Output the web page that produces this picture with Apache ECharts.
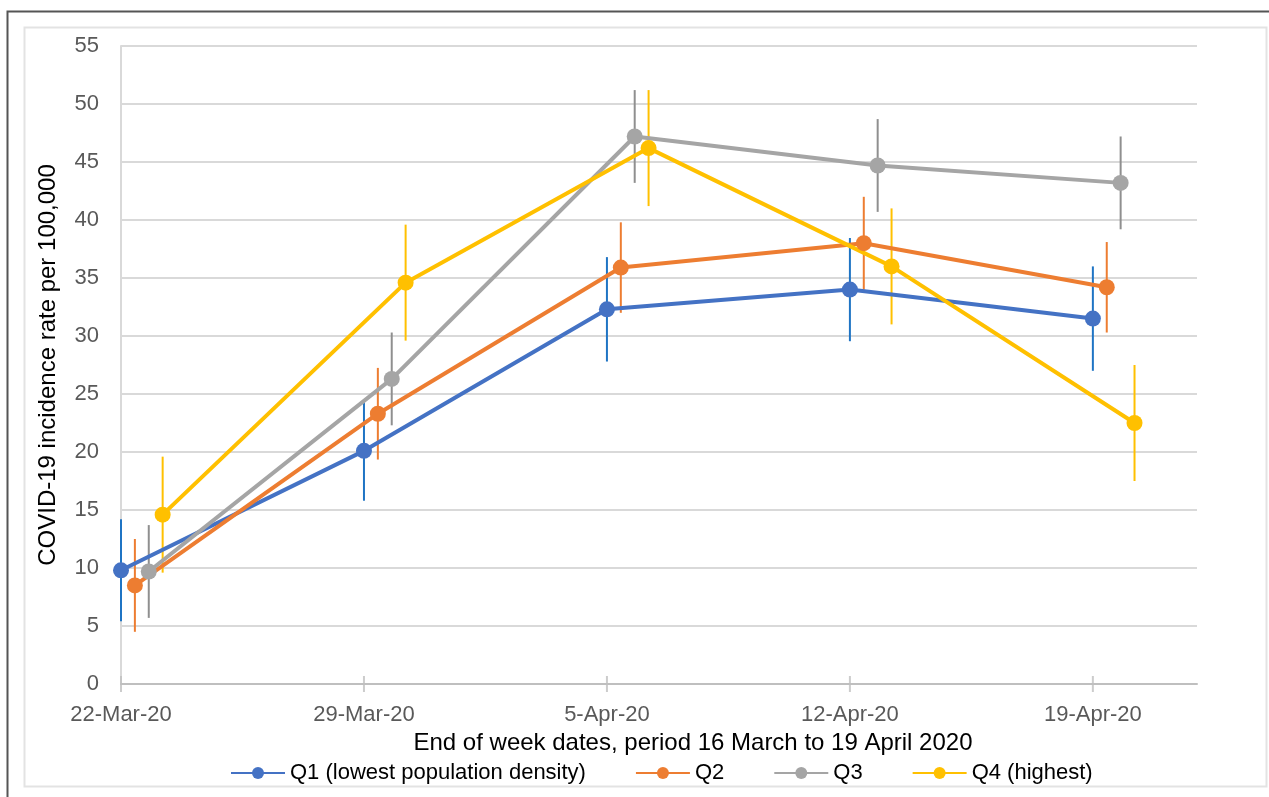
<!DOCTYPE html>
<html>
<head>
<meta charset="utf-8">
<title>COVID-19 incidence by population density quartile</title>
<script src="https://cdn.jsdelivr.net/npm/echarts@6/dist/echarts.min.js"></script>
<style>
  html, body { margin: 0; padding: 0; background: #fff; }
  #chart { width: 1269px; height: 797px; }
</style>
</head>
<body>
<div id="chart"></div>
<script>
// week labels, placed every 7 days starting at 22-Mar-20 (day 0)
const weekLabels = ["22-Mar-20", "29-Mar-20", "5-Apr-20", "12-Apr-20", "19-Apr-20"];
const weekDays = [0, 7, 14, 21, 28];

const seriesNames = ["Q1 (lowest population density)", "Q2", "Q3", "Q4 (highest)"];
const lineColors = ["#4472C4", "#ED7D31", "#A5A5A5", "#FFC000"];
const barColors = ["#1F74C4", "#ED7D31", "#8F8F8F", "#FFC000"];
// small horizontal shift (days) so the error bars don't overlap
const dayOffset = [0, 0.4, 0.8, 1.2];

// incidence rate per 100,000
const q1 = [9.8, 20.1, 32.3, 34.0, 31.5];
const q2 = [8.5, 23.3, 35.9, 38.0, 34.2];
const q3 = [9.7, 26.3, 47.2, 44.7, 43.2];
const q4 = [14.6, 34.6, 46.2, 36.0, 22.5];

// half-width of the error bars
const q1Err = [4.4, 4.3, 4.5, 4.45, 4.5];
const q2Err = [4.0, 3.95, 3.9, 4.0, 3.9];
const q3Err = [4.0, 4.0, 4.0, 4.0, 4.0];
const q4Err = [5.0, 5.0, 5.0, 5.0, 5.0];

const values = [q1, q2, q3, q4];
const errors = [q1Err, q2Err, q3Err, q4Err];

const FONT = "Liberation Sans";

const chart = echarts.init(document.getElementById("chart"), null, { renderer: "canvas" });

function errorBarSeries(i) {
  const data = values[i].map((v, k) => [weekDays[k] + dayOffset[i], v - errors[i][k], v + errors[i][k]]);
  return {
    type: "custom",
    name: seriesNames[i] + " err",
    z: 2,
    silent: true,
    data: data,
    encode: { x: 0, y: [1, 2] },
    renderItem: function (params, api) {
      const lo = api.coord([api.value(0), api.value(1)]);
      const hi = api.coord([api.value(0), api.value(2)]);
      return {
        type: "line",
        shape: { x1: lo[0], y1: lo[1], x2: hi[0], y2: hi[1] },
        style: { stroke: barColors[i], lineWidth: 2 }
      };
    }
  };
}

function lineSeries(i) {
  return {
    type: "line",
    name: seriesNames[i],
    z: 3,
    data: values[i].map((v, k) => [weekDays[k] + dayOffset[i], v]),
    symbol: "circle",
    symbolSize: 16,
    showSymbol: true,
    lineStyle: { color: lineColors[i], width: 4 },
    itemStyle: { color: lineColors[i] },
    emphasis: { disabled: true }
  };
}

const series = [];
for (let i = 0; i < 4; i++) series.push(errorBarSeries(i));
for (let i = 0; i < 4; i++) series.push(lineSeries(i));

// crossing tick marks on the x axis
series.push({
  type: "scatter",
  silent: true,
  z: 1,
  data: weekDays.map(d => [d, 0]),
  symbol: "rect",
  symbolSize: [2, 16],
  itemStyle: { color: "#BFBFBF" },
  clip: false
});

const option = {
  backgroundColor: "#fff",
  animation: false,
  textStyle: { fontFamily: FONT },
  graphic: [
    { type: "polyline", shape: { points: [[7.5, 797], [7.5, 11.5], [1269, 11.5]] }, style: { stroke: "#555", lineWidth: 2, fill: null } },
    { type: "rect", shape: { x: 24.5, y: 27.5, width: 1242, height: 759 }, style: { stroke: "#E3E3E3", lineWidth: 2, fill: null } }
  ],
  grid: { left: 121, right: 72, top: 46, bottom: 113, containLabel: false },
  legend: {
    data: seriesNames,
    left: 225,
    top: 757,
    itemWidth: 54,
    itemHeight: 15,
    itemGap: 49,
    textStyle: { fontFamily: FONT, fontSize: 22, color: "#000" }
  },
  xAxis: {
    type: "value",
    min: 0,
    max: 31,
    interval: 7,
    name: "End of week dates, period 16 March to 19 April 2020",
    nameLocation: "middle",
    nameGap: 42,
    nameTextStyle: { fontFamily: FONT, fontSize: 24, color: "#000", padding: [0, 0, 0, 68] },
    axisLine: { show: true, lineStyle: { color: "#BFBFBF", width: 2 } },
    axisTick: { show: false },
    splitLine: { show: false },
    axisLabel: {
      margin: 20,
      fontSize: 22,
      color: "#595959",
      fontFamily: FONT,
      formatter: function (v) {
        const k = weekDays.indexOf(v);
        return k >= 0 ? weekLabels[k] : "";
      }
    }
  },
  yAxis: {
    type: "value",
    min: 0,
    max: 55,
    interval: 5,
    name: "COVID-19 incidence rate per 100,000",
    nameLocation: "middle",
    nameGap: 61,
    nameTextStyle: { fontFamily: FONT, fontSize: 24, color: "#000" },
    axisLine: { show: true, lineStyle: { color: "#D9D9D9", width: 2 } },
    axisTick: { show: false },
    splitLine: { show: true, lineStyle: { color: "#D9D9D9", width: 2 } },
    axisLabel: { margin: 22, fontSize: 22, color: "#595959", fontFamily: FONT }
  },
  series: series
};

chart.setOption(option);
</script>
</body>
</html>
